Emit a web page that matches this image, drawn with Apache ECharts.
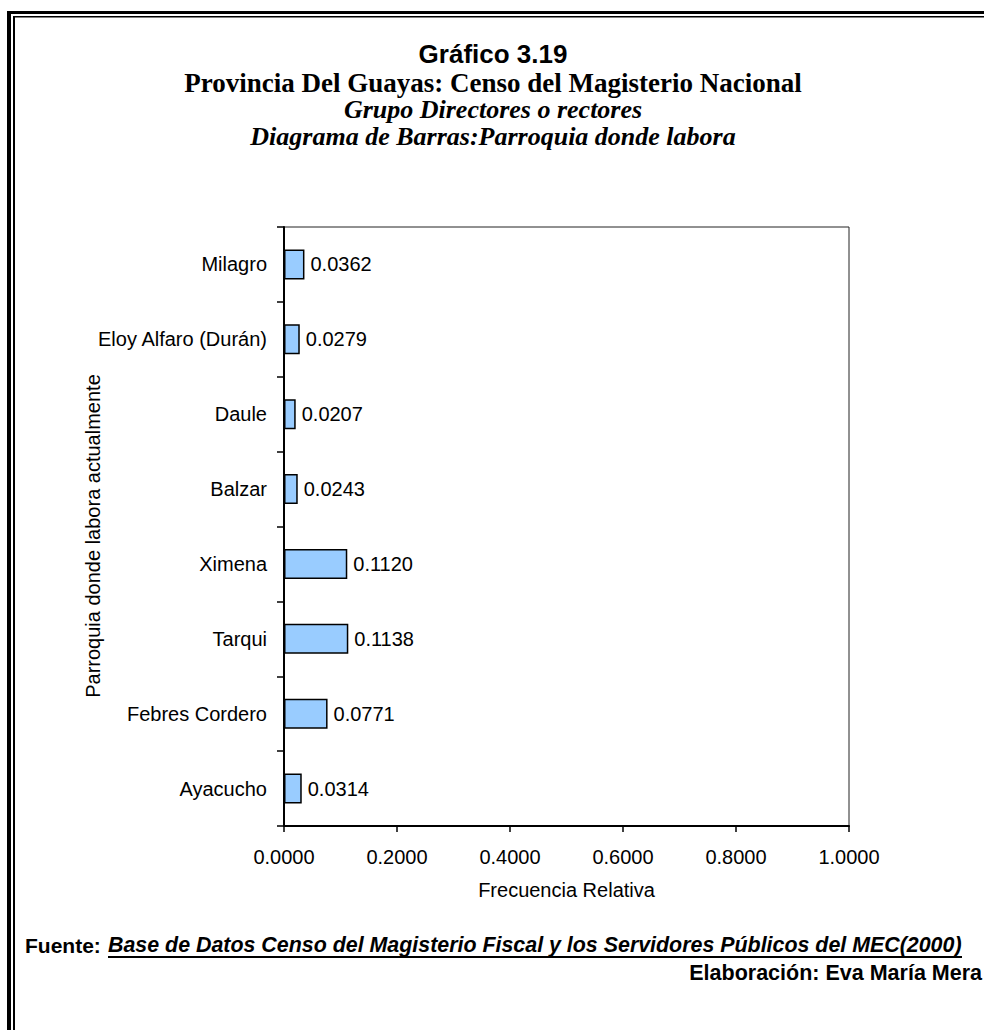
<!DOCTYPE html>
<html>
<head>
<meta charset="utf-8">
<script src="https://cdn.jsdelivr.net/npm/echarts@6/dist/echarts.min.js"></script>
<style>
  html, body { margin: 0; padding: 0; background: #fff; }
  #main { width: 984px; height: 1030px; }
</style>
</head>
<body>
<div id="main"></div>
<script>
// datos del grafico (de arriba hacia abajo)
var parroquias = ['Milagro', 'Eloy Alfaro (Durán)', 'Daule', 'Balzar', 'Ximena', 'Tarqui', 'Febres Cordero', 'Ayacucho'];
var frecuencias = [0.0362, 0.0279, 0.0207, 0.0243, 0.1120, 0.1138, 0.0771, 0.0314];
var ejeMin = 0, ejeMax = 1, ejeIntervalo = 0.2;

var sans = '"Liberation Sans", Arial, sans-serif';
var serif = '"Liberation Serif", "Times New Roman", serif';

var option = {
  animation: false,
  backgroundColor: '#fff',
  grid: {
    left: 284, right: 135, top: 227, bottom: 204,
    show: true, borderColor: '#222', borderWidth: 1
  },
  xAxis: {
    type: 'value',
    min: ejeMin, max: ejeMax, interval: ejeIntervalo,
    name: 'Frecuencia Relativa',
    nameLocation: 'middle',
    nameGap: 54,
    nameTextStyle: { fontFamily: sans, fontSize: 20, color: '#000' },
    axisLine: { show: true, lineStyle: { color: '#000', width: 2 } },
    axisTick: { show: true, length: 6, lineStyle: { color: '#000', width: 1.5 } },
    axisLabel: {
      fontFamily: sans, fontSize: 20, color: '#000', margin: 21,
      formatter: function (v) { return v.toFixed(4); }
    },
    splitLine: { show: false }
  },
  yAxis: {
    type: 'category',
    data: parroquias,
    inverse: true,
    axisLine: { show: true, lineStyle: { color: '#000', width: 2 } },
    axisTick: { show: true, length: 7, lineStyle: { color: '#000', width: 1.5 } },
    axisLabel: { fontFamily: sans, fontSize: 20, color: '#000', margin: 17 },
    splitLine: { show: false }
  },
  series: [{
    type: 'bar',
    data: frecuencias,
    barWidth: 30,
    itemStyle: { color: '#99CCFF', borderColor: '#000', borderWidth: 1.5 },
    label: {
      show: true, position: 'right', distance: 6,
      fontFamily: sans, fontSize: 20, color: '#000',
      formatter: function (p) { return p.value.toFixed(4); }
    }
  }],
  graphic: [
    // marco doble
    { type: 'rect', shape: { x: 7, y: 11, width: 1000, height: 3 }, style: { fill: '#000' } },
    { type: 'rect', shape: { x: 7, y: 11, width: 4, height: 1030 }, style: { fill: '#000' } },
    { type: 'rect', shape: { x: 13, y: 16, width: 1000, height: 1.5 }, style: { fill: '#000' } },
    { type: 'rect', shape: { x: 13, y: 16, width: 2, height: 1030 }, style: { fill: '#000' } },
    // titulos (un solo bloque de texto)
    {
      type: 'text', x: 493, y: 39,
      style: {
        text: '{g|Gráfico 3.19}\n{p|Provincia Del Guayas: Censo del Magisterio Nacional}\n{i|Grupo Directores o rectores}\n{i|Diagrama de Barras:Parroquia donde labora}',
        textAlign: 'center', textVerticalAlign: 'top', fill: '#000',
        rich: {
          g: { font: 'bold 26px ' + sans, lineHeight: 30, fill: '#000' },
          p: { font: 'bold 27px ' + serif, lineHeight: 27, fill: '#000' },
          i: { font: 'italic bold 26px ' + serif, lineHeight: 27, fill: '#000' }
        }
      }
    },
    // nombre del eje y
    { type: 'text', x: 93, y: 536, rotation: Math.PI / 2, style: { text: 'Parroquia donde labora actualmente', font: '20px ' + sans, fill: '#000', textAlign: 'center', textVerticalAlign: 'middle' } },
    // fuente y elaboracion
    { type: 'text', x: 25, y: 945, style: { text: 'Fuente:', font: 'bold 21px ' + sans, fill: '#000', textAlign: 'left', textVerticalAlign: 'middle' } },
    { type: 'text', x: 108, y: 945, style: { text: 'Base de Datos Censo del Magisterio Fiscal y los Servidores Públicos del MEC(2000)', font: 'italic bold 21.4px ' + sans, fill: '#000', textAlign: 'left', textVerticalAlign: 'middle' } },
    { type: 'line', shape: { x1: 108, y1: 957, x2: 962, y2: 957 }, style: { stroke: '#000', lineWidth: 2 } },
    { type: 'text', x: 982, y: 973, style: { text: 'Elaboración: Eva María Mera', font: 'bold 21.5px ' + sans, fill: '#000', textAlign: 'right', textVerticalAlign: 'middle' } }
  ]
};

var chart = echarts.init(document.getElementById('main'), null, { renderer: 'svg' });
chart.setOption(option);
</script>
</body>
</html>
